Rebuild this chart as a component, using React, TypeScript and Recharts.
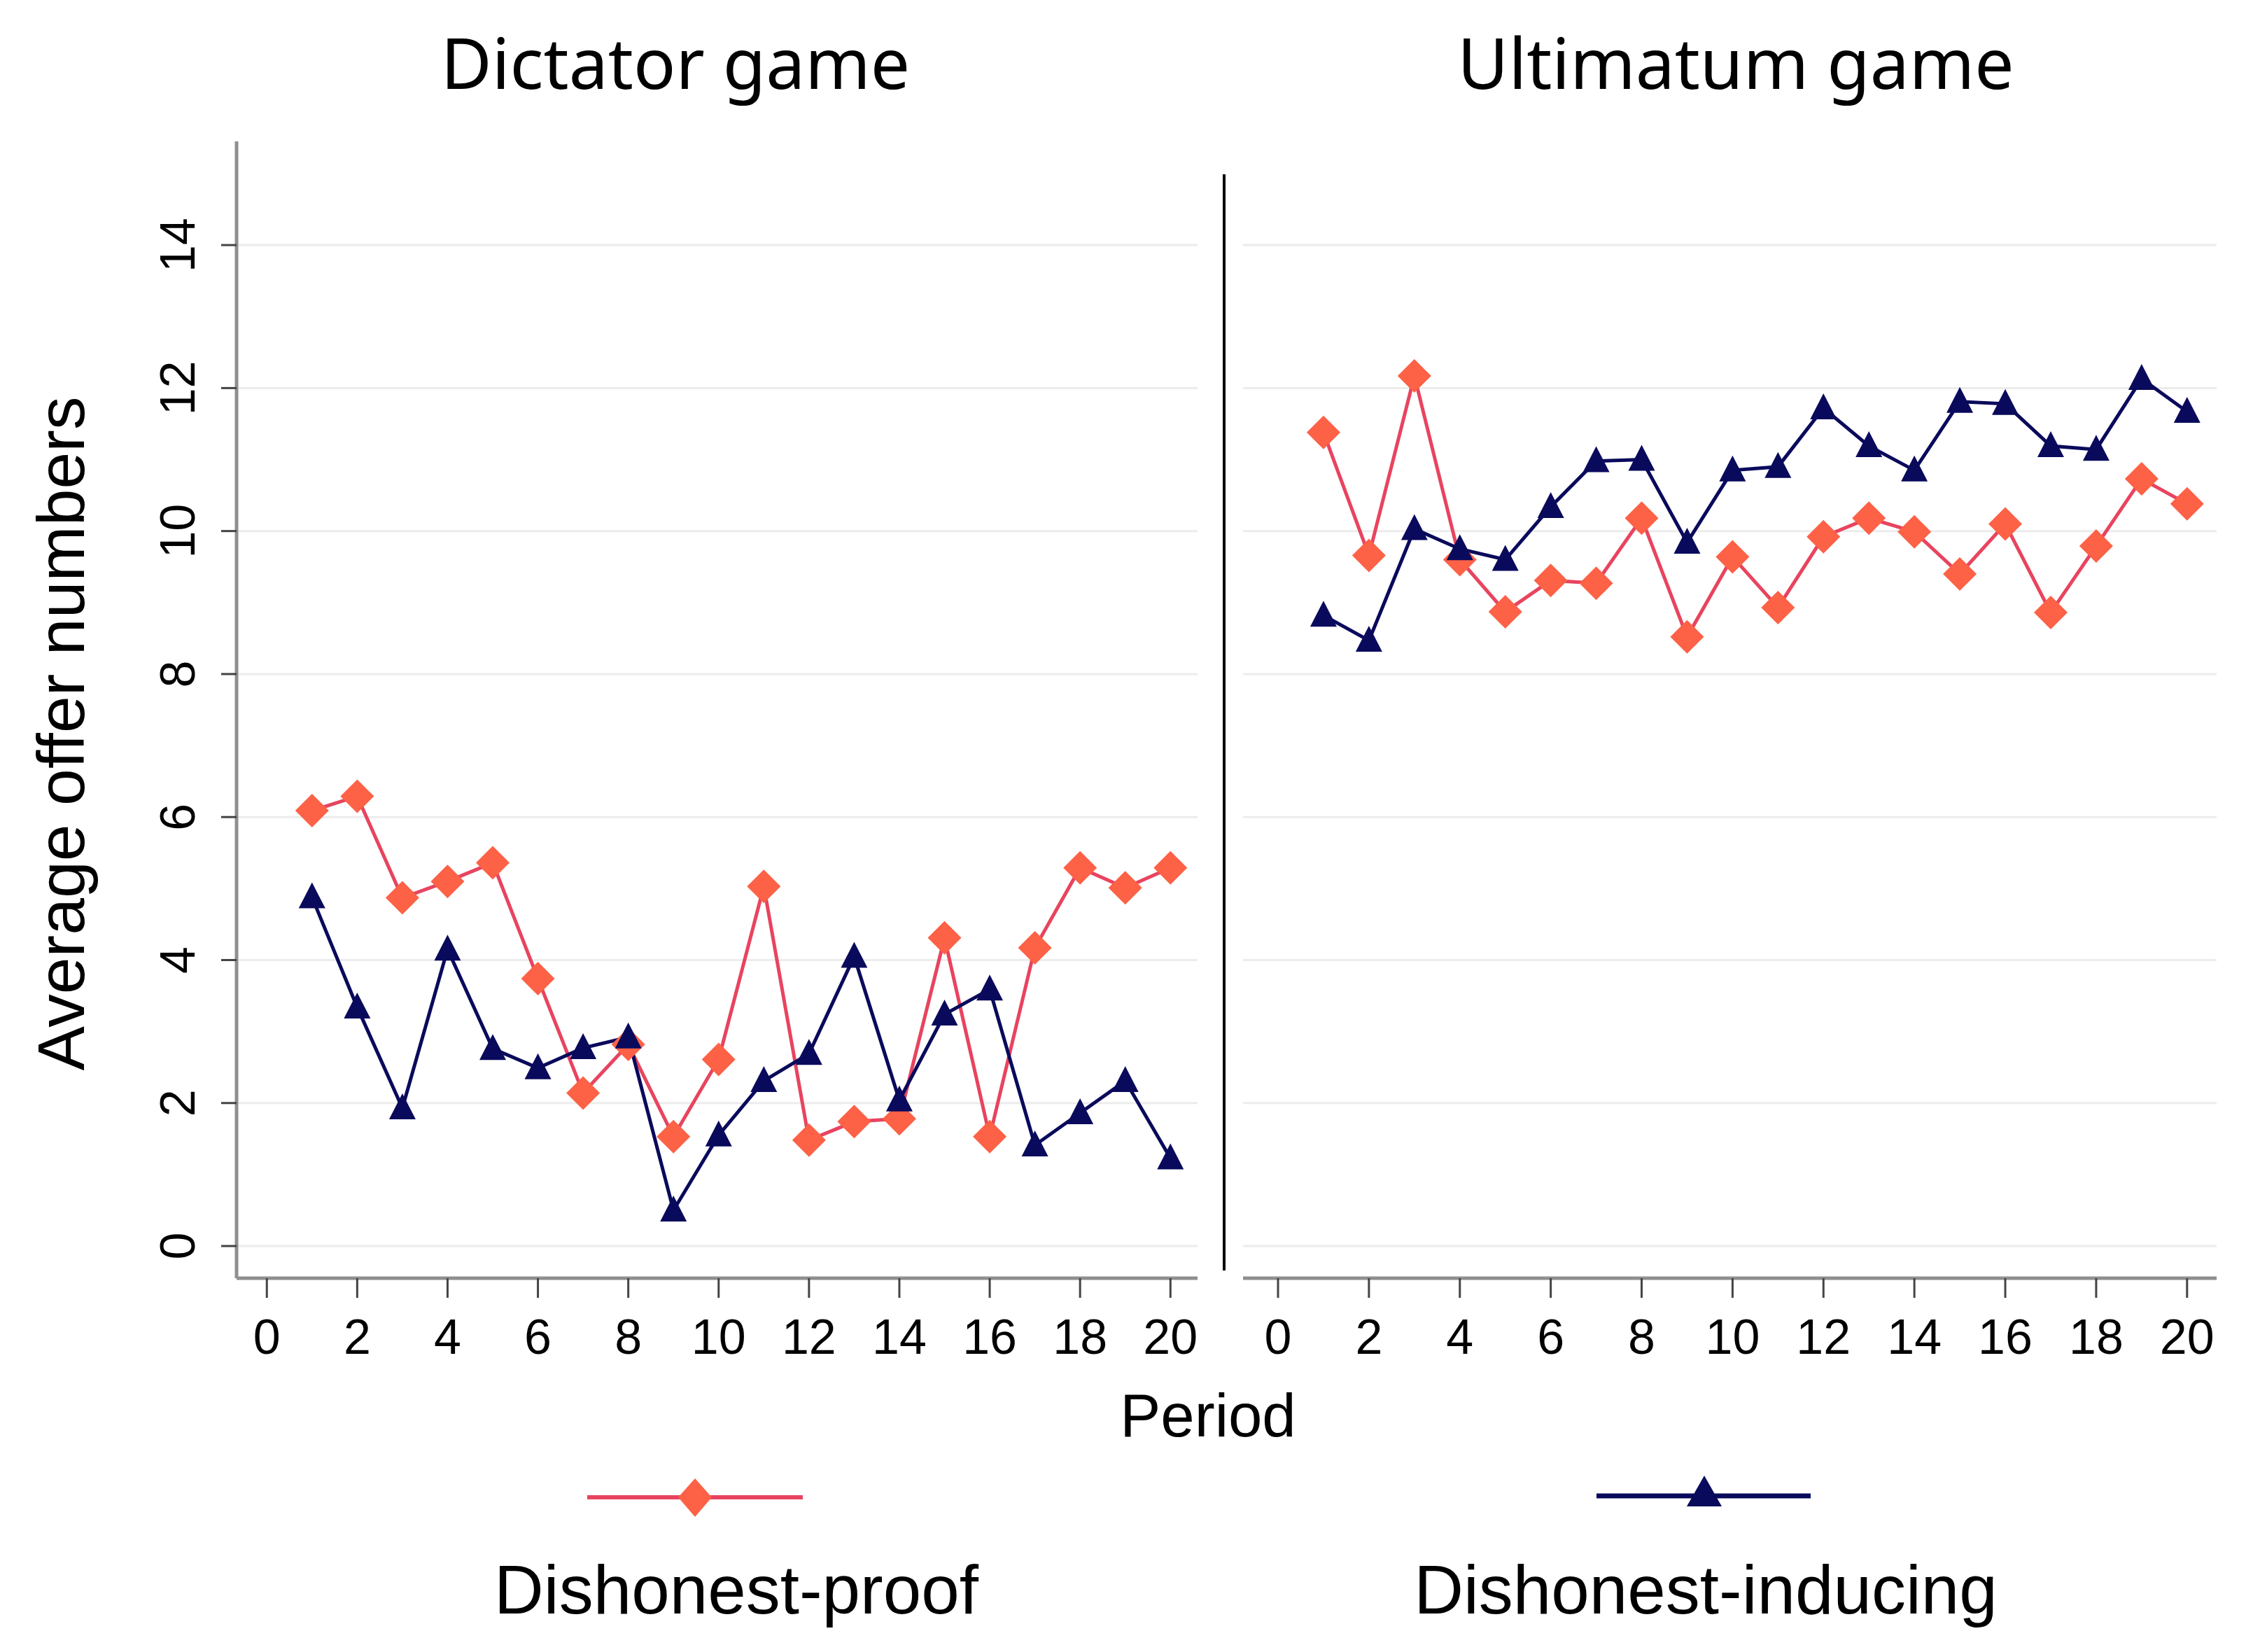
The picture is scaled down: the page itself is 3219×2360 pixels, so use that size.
import React from 'react';
import { LineChart, Line, XAxis, YAxis, CartesianGrid } from 'recharts';

const periods = [1, 2, 3, 4, 5, 6, 7, 8, 9, 10, 11, 12, 13, 14, 15, 16, 17, 18, 19, 20];
const dictatorProof = [6.09, 6.29, 4.87, 5.10, 5.36, 3.74, 2.14, 2.82, 1.53, 2.61, 5.03, 1.48, 1.74, 1.78, 4.31, 1.53, 4.17, 5.29, 5.01, 5.29];
const dictatorInducing = [4.88, 3.34, 1.93, 4.15, 2.76, 2.49, 2.77, 2.92, 0.50, 1.55, 2.31, 2.69, 4.05, 2.04, 3.24, 3.59, 1.41, 1.86, 2.31, 1.23];
const ultimatumProof = [11.38, 9.66, 12.17, 9.60, 8.87, 9.31, 9.27, 10.18, 8.52, 9.64, 8.93, 9.92, 10.18, 9.99, 9.40, 10.10, 8.86, 9.79, 10.73, 10.38];
const ultimatumInducing = [8.82, 8.47, 10.03, 9.75, 9.60, 10.34, 10.98, 11.0, 9.84, 10.85, 10.90, 11.72, 11.19, 10.85, 11.81, 11.78, 11.19, 11.14, 12.13, 11.67];

const xTicks = [0, 2, 4, 6, 8, 10, 12, 14, 16, 18, 20];
const yTicks = [0, 2, 4, 6, 8, 10, 12, 14];

const panelTitles = ['Dictator game', 'Ultimatum game'];
const seriesNames = ['Dishonest-proof', 'Dishonest-inducing'];
const xLabel = 'Period';
const yLabel = 'Average offer numbers';

const RED_LINE = '#e8445f';
const RED_FILL = '#fd6146';
const NAVY = '#0a0a5c';
const AXIS = '#8f8f8f';
const TICK = '#444';
const FONT = '"Liberation Sans", Arial, sans-serif';
const TICK_FONT = '"Liberation Sans Narrow", "Arial Narrow", "Liberation Sans", Arial, sans-serif';
const TITLE_FONT = '"Noto Sans", "Open Sans", sans-serif';

const dictatorData = periods.map((p, i) => ({ period: p, proof: dictatorProof[i], inducing: dictatorInducing[i] }));
const ultimatumData = periods.map((p, i) => ({ period: p, proof: ultimatumProof[i], inducing: ultimatumInducing[i] }));

const Diamond = (props: any) => {
  const { cx, cy, index } = props;
  if (cx == null || cy == null) return null;
  return <path key={`d-${index}`} d={`M${cx},${cy - 24} L${cx + 24},${cy} L${cx},${cy + 24} L${cx - 24},${cy} Z`} fill={RED_FILL} />;
};

const Triangle = (props: any) => {
  const { cx, cy, index } = props;
  if (cx == null || cy == null) return null;
  return <path key={`t-${index}`} d={`M${cx},${cy - 21} L${cx + 19},${cy + 16} L${cx - 19},${cy + 16} Z`} fill={NAVY} />;
};

const YTick = (props: any) => {
  const { x, y, payload } = props;
  return (
    <g transform={`translate(${x},${y})`}>
      <text transform="rotate(-90)" textAnchor="middle" fontSize={70} fontFamily={TICK_FONT} fill="#000">
        {payload.value}
      </text>
    </g>
  );
};

const xAxisCommon = {
  type: 'number' as const,
  dataKey: 'period',
  ticks: xTicks,
  allowDataOverflow: true,
  height: 120,
  tickSize: 28,
  tickMargin: 30,
  interval: 0 as const,
  axisLine: { stroke: AXIS, strokeWidth: 5 },
  tickLine: { stroke: TICK, strokeWidth: 3 },
  tick: { fontSize: 70, fontFamily: TICK_FONT, fill: '#000' },
};

const Panel = ({ data, xDomain, showY, width, margin }: any) => (
  <LineChart width={width} height={1950} data={data} margin={margin}>
    <CartesianGrid vertical={false} stroke="#ececec" strokeWidth={3} syncWithTicks horizontalValues={yTicks} />
    <XAxis {...xAxisCommon} domain={xDomain} />
    {showY ? (
      <YAxis
        type="number"
        domain={[-0.45, 15.45]}
        ticks={yTicks}
        allowDataOverflow
        width={200}
        tickSize={22}
        tickMargin={38}
        interval={0}
        axisLine={{ stroke: AXIS, strokeWidth: 5 }}
        tickLine={{ stroke: TICK, strokeWidth: 3 }}
        tick={<YTick />}
      />
    ) : (
      <YAxis type="number" domain={[-0.45, 15.45]} ticks={yTicks} allowDataOverflow hide />
    )}
    <Line dataKey="proof" stroke={RED_LINE} strokeWidth={5} dot={Diamond} activeDot={false} isAnimationActive={false} />
    <Line dataKey="inducing" stroke={NAVY} strokeWidth={5} dot={Triangle} activeDot={false} isAnimationActive={false} />
  </LineChart>
);

export default function App() {
  return (
    <div style={{ position: 'absolute', left: 0, top: 0, width: 3219, height: 2360, background: '#fff', overflow: 'hidden' }}>
      <div style={{ position: 'absolute', left: 0, top: 0 }}>
        <Panel data={dictatorData} xDomain={[-0.67, 20.6]} showY width={1720} margin={{ top: 202, right: 9, bottom: 4, left: 138 }} />
      </div>
      <div style={{ position: 'absolute', left: 1730, top: 0 }}>
        <Panel data={ultimatumData} xDomain={[-0.77, 20.65]} showY={false} width={1489} margin={{ top: 202, right: 52, bottom: 4, left: 46 }} />
      </div>
      <div style={{ position: 'absolute', left: 1747, top: 249, width: 4, height: 1566, background: '#000' }} />
      <svg width={3219} height={2360} style={{ position: 'absolute', left: 0, top: 0, pointerEvents: 'none' }}>
        <text x={965} y={127} textAnchor="middle" fontSize={100} fontFamily={TITLE_FONT} fill="#000">{panelTitles[0]}</text>
        <text x={2480} y={127} textAnchor="middle" fontSize={100} fontFamily={TITLE_FONT} fill="#000">{panelTitles[1]}</text>
        <text transform="translate(120,1048) rotate(-90)" textAnchor="middle" fontSize={95} fontFamily={FONT} fill="#000">{yLabel}</text>
        <text x={1726} y={2052} textAnchor="middle" fontSize={87} fontFamily={FONT} fill="#000">{xLabel}</text>
        <line x1={839} y1={2139} x2={1147} y2={2139} stroke={RED_LINE} strokeWidth={6} />
        <path d="M993,2112 L1017,2139 L993,2167 L969,2139 Z" fill={RED_FILL} />
        <line x1={2281} y1={2137} x2={2587} y2={2137} stroke={NAVY} strokeWidth={7} />
        <path d="M2435,2108 L2460,2152 L2410,2152 Z" fill={NAVY} />
        <text x={1052} y={2305} textAnchor="middle" fontSize={98} fontFamily={FONT} fill="#000">{seriesNames[0]}</text>
        <text x={2437} y={2305} textAnchor="middle" fontSize={98} fontFamily={FONT} fill="#000">{seriesNames[1]}</text>
      </svg>
    </div>
  );
}
